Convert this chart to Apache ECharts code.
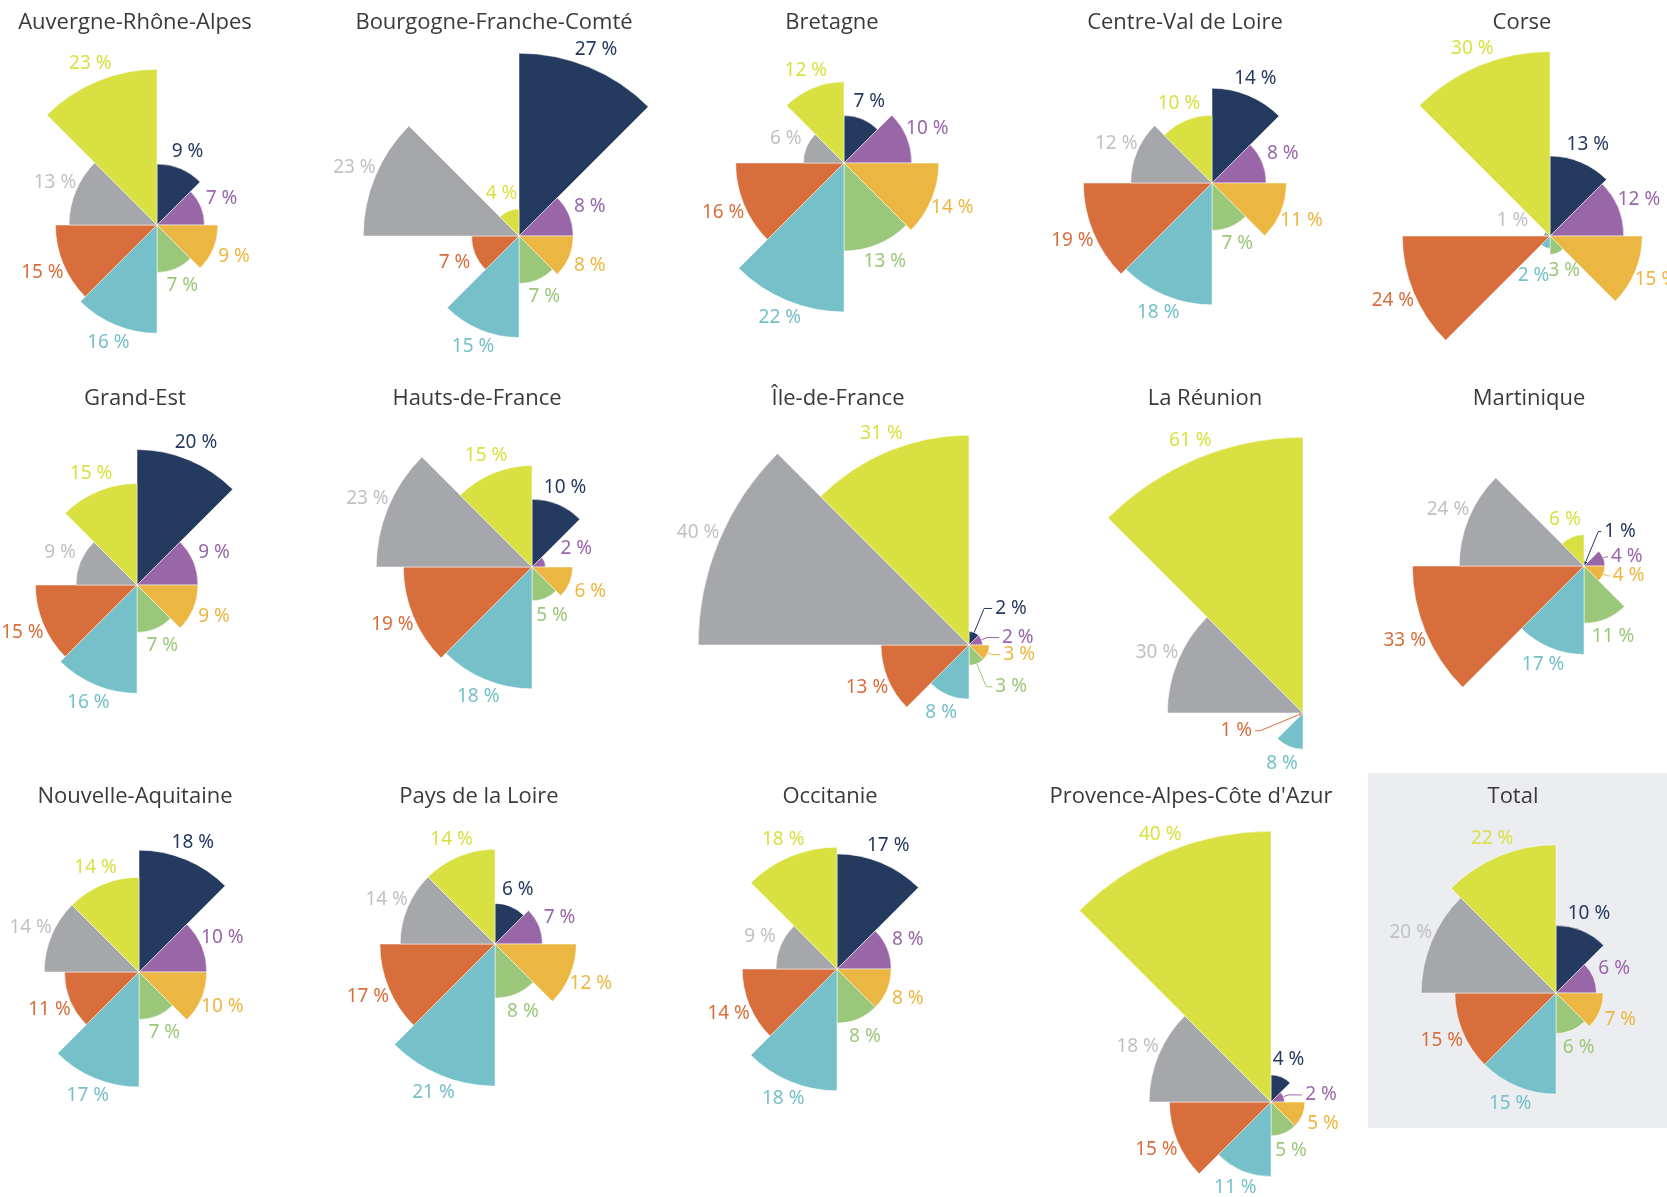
<!DOCTYPE html>
<html>
<head>
<meta charset="utf-8">
<script src="https://cdn.jsdelivr.net/npm/echarts@6/dist/echarts.min.js"></script>
<style>
  html, body { margin: 0; padding: 0; background: #fff; }
  #main { width: 1667px; height: 1197px; }
</style>
</head>
<body>
<div id="main"></div>
<script>
// slices, clockwise from 12 o'clock (values in %)
const regionNames = [
  'Auvergne-Rhône-Alpes', 'Bourgogne-Franche-Comté', 'Bretagne', 'Centre-Val de Loire', 'Corse',
  'Grand-Est', 'Hauts-de-France', 'Île-de-France', 'La Réunion', 'Martinique',
  'Nouvelle-Aquitaine', 'Pays de la Loire', 'Occitanie', "Provence-Alpes-Côte d'Azur", 'Total'
]
const auvergne = [9, 7, 9, 7, 16, 15, 13, 23]
const bourgogne = [27, 8, 8, 7, 15, 7, 23, 4]
const bretagne = [7, 10, 14, 13, 22, 16, 6, 12]
const centre = [14, 8, 11, 7, 18, 19, 12, 10]
const corse = [13, 12, 15, 3, 2, 24, 1, 30]
const grandEst = [20, 9, 9, 7, 16, 15, 9, 15]
const hauts = [10, 2, 6, 5, 18, 19, 23, 15]
const ileDeFrance = [2, 2, 3, 3, 8, 13, 40, 31]
const reunion = [0, 0, 0, 0, 8, 1, 30, 61]
const martinique = [1, 4, 4, 11, 17, 33, 24, 6]
const nouvelleAquitaine = [18, 10, 10, 7, 17, 11, 14, 14]
const paysDeLaLoire = [6, 7, 12, 8, 21, 17, 14, 14]
const occitanie = [17, 8, 8, 8, 18, 14, 9, 18]
const paca = [4, 2, 5, 5, 11, 15, 18, 40]
const total = [10, 6, 7, 6, 15, 15, 20, 22]

const shares = [auvergne, bourgogne, bretagne, centre, corse,
  grandEst, hauts, ileDeFrance, reunion, martinique,
  nouvelleAquitaine, paysDeLaLoire, occitanie, paca, total]

const colors = ['#253a5f', '#9966a8', '#ecb642', '#9bc77a', '#76c0c9', '#d86e3c', '#a6a7ab', '#d9e042']
const labelColors = ['#253a5f', '#9966a8', '#ecb642', '#9bc77a', '#76c0c9', '#d86e3c', '#c0c1c5', '#d9e042']

// c: pie centre, t: title centre, k: px per percent
const layout = [
  { c: [157, 225], t: [135, 23], k: 6.77 },
  { c: [519, 236], t: [494, 23], k: 6.77 },
  { c: [844, 163], t: [832, 23], k: 6.77 },
  { c: [1212, 183], t: [1185, 23], k: 6.77 },
  { c: [1550, 236], t: [1522, 23], k: 6.15 },
  { c: [137, 585], t: [135, 399], k: 6.77 },
  { c: [532, 567], t: [477, 399], k: 6.77 },
  { c: [969, 645], t: [838, 399], k: 6.77 },
  { c: [1303, 713], t: [1205, 399], k: 4.52 },
  { c: [1584, 566], t: [1529, 399], k: 5.2 },
  { c: [139, 972], t: [135, 797], k: 6.77 },
  { c: [495, 944], t: [479, 797], k: 6.77 },
  { c: [837, 969], t: [830, 797], k: 6.77 },
  { c: [1271, 1102], t: [1191, 797], k: 6.77 },
  { c: [1556, 993], t: [1513, 797], k: 6.74 }
]

// tiny slices drawn with a leader line: slice index -> [length, length2]
const leaders = {
  7: { 0: [26, 8], 1: [6, 12], 2: [5, 8], 3: [25, 6] },
  8: { 5: [42, 5] },
  9: { 0: [32, 3], 1: [3, 2], 2: [5, 2] },
  13: { 1: [5, 14] }
}

const labelFont = "'Noto Sans', sans-serif"
const titleFont = "'Open Sans', 'Lato', sans-serif"

const chart = echarts.init(document.getElementById('main'))

const series = shares.map((vals, i) => {
  const L = layout[i]
  const lead = leaders[i] || {}
  return {
    type: 'pie',
    roseType: 'area',
    center: L.c,
    radius: [0, Math.max(...vals) * L.k],
    startAngle: 90,
    clockwise: true,
    avoidLabelOverlap: false,
    silent: true,
    animation: false,
    itemStyle: { borderColor: '#fff', borderWidth: 0.5 },
    label: {
      position: 'outside',
      formatter: '{c} %',
      fontSize: 19,
      fontFamily: labelFont
    },
    labelLine: { show: true, length: 16, length2: 0, smooth: false, lineStyle: { opacity: 0 } },
    // label sits just beyond its own slice, along the slice's mid angle
    labelLayout: function (p) {
      const pts = p.labelLinePoints
      if (!pts) return {}
      const a = pts[0]
      const b = pts[1]
      const len = Math.hypot(b[0] - a[0], b[1] - a[1]) || 1
      const ux = (b[0] - a[0]) / len
      const uy = (b[1] - a[1]) / len
      const ld = lead[p.dataIndex]
      if (ld) {
        const side = ux < 0 ? -1 : 1
        const p2 = [a[0] + ux * ld[0], a[1] + uy * ld[0]]
        const p3 = [p2[0] + side * ld[1], p2[1]]
        return {
          x: p3[0] + side * 3,
          y: p3[1],
          align: side < 0 ? 'right' : 'left',
          verticalAlign: 'middle',
          labelLinePoints: [a, p2, p3]
        }
      }
      let gap = 16 + 7 * Math.abs(ux)
      if (vals[p.dataIndex] <= 2) gap += 12 // very thin slices: push the label clear of neighbours
      return { x: a[0] + ux * gap, y: a[1] + uy * gap, align: 'center', verticalAlign: 'middle' }
    },
    data: vals.map((v, j) => {
      const item = {
        value: v,
        name: regionNames[i] + ' ' + j,
        itemStyle: { color: colors[j] },
        label: { color: labelColors[j], show: v > 0 }
      }
      if (lead[j]) {
        item.labelLine = { lineStyle: { opacity: 1, color: colors[j], width: 1 } }
      }
      return item
    })
  }
})

const graphics = [{
  type: 'rect',
  z: 0,
  shape: { x: 1368, y: 773, width: 299, height: 355 },
  style: { fill: '#ecedf1' }
}].concat(regionNames.map((name, i) => ({
  type: 'text',
  z: 1,
  x: layout[i].t[0],
  y: layout[i].t[1],
  style: {
    text: name,
    fill: '#3a3a3a',
    fontSize: 22,
    fontFamily: titleFont,
    align: 'center',
    verticalAlign: 'middle'
  }
})))

chart.setOption({
  animation: false,
  graphic: { elements: graphics },
  series: series
})
</script>
</body>
</html>
